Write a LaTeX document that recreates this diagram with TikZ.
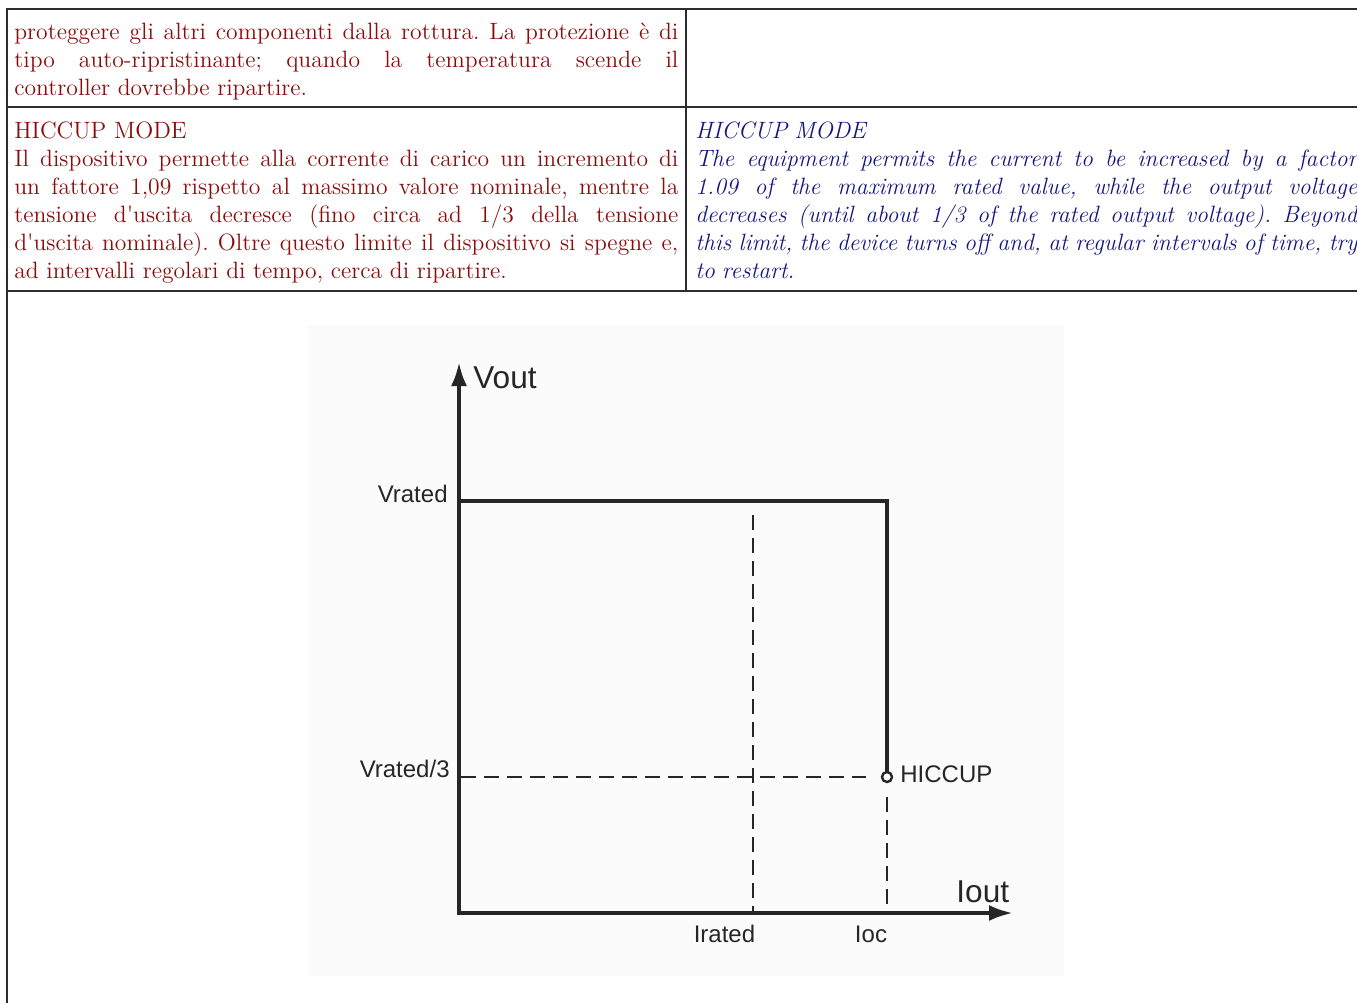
\documentclass[tikz,border=0pt]{standalone}
\usepackage{fontspec}
\newfontfamily\plotfont{Liberation Sans}
\usetikzlibrary{arrows.meta,positioning}
\definecolor{itred}{RGB}{138,12,12}
\definecolor{enblue}{RGB}{22,22,128}
\definecolor{inkgray}{RGB}{38,38,38}
\definecolor{rulegray}{RGB}{45,45,45}
\frenchspacing
\newlength{\cellwidth}
\setlength{\cellwidth}{332pt}
\newcommand{\jline}[1]{\hbox to \cellwidth{#1}}
\newcommand{\lastline}[1]{\hbox{#1}}
\tikzset{
  celltext/.style={anchor=base west, inner sep=0pt,
    font=\fontsize{11.8}{14}\selectfont},
  tablerule/.style={rulegray, line width=0.65pt},
  axis/.style={inkgray, line width=2pt, line join=miter},
  curve/.style={inkgray, line width=2pt, line join=miter},
  guide/.style={inkgray, line width=0.75pt, dash pattern=on 7.5pt off 4pt},
  hicdot/.style={circle, draw=inkgray, fill=white, line width=1.2pt,
    minimum size=5pt, inner sep=0pt},
  biglabel/.style={inkgray, inner sep=0pt, font=\plotfont\fontsize{15.8}{18}\selectfont},
  smalllabel/.style={inkgray, inner sep=0pt, font=\plotfont\fontsize{12}{14}\selectfont}
}

\begin{document}
\begin{tikzpicture}[x=0.5pt, y=-0.5pt, >=Latex]
  \useasboundingbox (0,0) rectangle (1357,1003);
  % table rules
  \draw[tablerule] (7,1003) -- (7,9) -- (1357,9);
  \draw[tablerule] (7,107) -- (1357,107);
  \draw[tablerule] (7,291) -- (1357,291);
  \draw[tablerule] (686,9) -- (686,291);
  % italian column
  \node[celltext, text=itred] (itone) at (14,39) {\vtop{%
    \jline{proteggere gli altri componenti dalla rottura. La protezione è di}
    \jline{tipo auto-ripristinante; quando la temperatura scende il}
    \lastline{controller dovrebbe ripartire.}}};
  \node[celltext, text=itred] (ittwo) at (14,138) {\vtop{%
    \lastline{HICCUP MODE}
    \jline{Il dispositivo permette alla corrente di carico un incremento di}
    \jline{un fattore 1,09 rispetto al massimo valore nominale, mentre la}
    \jline{tensione d\textquotesingle uscita decresce (fino circa ad 1/3 della tensione}
    \jline{d\textquotesingle uscita nominale). Oltre questo limite il dispositivo si spegne e,}
    \lastline{ad intervalli regolari di tempo, cerca di ripartire.}}};
  % english column
  \node[celltext, text=enblue] (entwo) at (695,138) {\vtop{\itshape
    \spaceskip=0.3em plus 0.6em minus 0.14em
    \setlength{\cellwidth}{331pt}%
    \lastline{HICCUP MODE}
    \jline{The equipment permits the current to be increased by a factor}
    \jline{1.09 of the maximum rated value, while the output voltage}
    \jline{decreases (until about 1/3 of the rated output voltage). Beyond}
    \jline{this limit, the device turns off and, at regular intervals of time, try}
    \lastline{to restart.}}};
  % figure background
  \fill[black!1.5] (308,325) rectangle (1065,977);
  \coordinate (O) at (459,913);
  \coordinate (ytip) at (459,362);
  \coordinate (xtip) at (1013,913);
  \coordinate (vr) at (459,501);
  \coordinate (knee) at (887,501);
  \coordinate (hic) at (887,777);
  \coordinate (vthird) at (461,777);
  \coordinate (vthirdend) at (866,777);
  \coordinate (irtop) at (753,515);
  \coordinate (ir) at (753,913);
  \coordinate (ioctop) at (887,797);
  \coordinate (ioc) at (887,913);
  % guides
  \draw[guide] (vthird) -- (vthirdend);
  \draw[guide] (irtop) -- (ir);
  \draw[guide] (ioctop) -- (ioc);
  % axes
  \draw[axis, {Latex[length=12pt,width=8pt]}-{Latex[length=12pt,width=8pt]}] (ytip) -- (O) -- (xtip);
  % characteristic
  \draw[curve] (vr) -- (knee) -- (hic);
  \node[hicdot] (hicpt) at (hic) {};
  % labels
  \node[biglabel, anchor=base west] (vout) at (473,388) {Vout};
  \node[biglabel, anchor=base west] (iout) at (956,902) {Iout};
  \node[smalllabel, anchor=base east] (vrated) at (448,502) {Vrated};
  \node[smalllabel, anchor=base east] (vrthird) at (450,777) {Vrated/3};
  \node[smalllabel, anchor=base west] (hiclab) at (900,782) {HICCUP};
  \node[smalllabel, anchor=base] (irated) at (724.5,942) {Irated};
  \node[smalllabel, anchor=base] (ioclab) at (871,942) {Ioc};
\end{tikzpicture}
\end{document}
